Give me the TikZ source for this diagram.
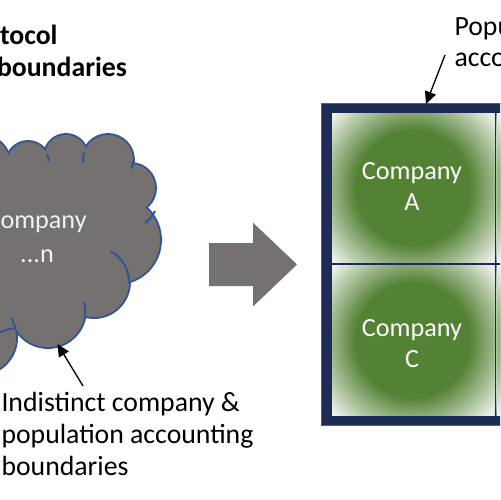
\documentclass[tikz,border=0pt]{standalone}
\usepackage{fontspec}
\setmainfont{Carlito}
\usetikzlibrary{arrows.meta}
\definecolor{cloudgray}{HTML}{767171}
\definecolor{cloudblue}{HTML}{2F5597}
\definecolor{navy}{HTML}{1C2C55}
\definecolor{cgreen}{HTML}{548235}
\begin{document}
\begin{tikzpicture}[x=0.02cm, y=-0.02cm,
  every node/.style={inner sep=0pt, outer sep=0pt},
  cloudline/.style={draw=cloudblue, line width=1.1pt},
  lbl/.style={font=\fontsize{15.8}{18}\selectfont, text=black},
  celltxt/.style={font=\fontsize{14.9}{17.4}\selectfont, text=white, align=center},
  cloudtxt/.style={font=\fontsize{14.9}{17.4}\selectfont, text=white!95!black},
  ptr/.style={draw=black, line width=0.75pt, -{Triangle[length=7pt,width=6.5pt]}}]
\useasboundingbox (0,0) rectangle (500,500);
\clip (0,0) rectangle (500,500);

% ---------- cloud ----------
\foreach \cx/\cy/\r in {-20/165/30, 28/163/21, 66/156/21, 108/160/25, 131/188/24, 117/240/43, 94/282/35, 48/310/37, -20/338/36, -80/250/50}
  \path[draw=cloudblue, line width=2.2pt] (\cx,\cy) circle[radius=\r];
\fill[cloudgray] (-20,165) -- (28,163) -- (66,156) -- (108,160) -- (131,188) -- (117,240) -- (94,282) -- (48,310) -- (-20,338) -- (-80,250) -- cycle;
\foreach \cx/\cy/\r in {-20/165/30, 28/163/21, 66/156/21, 108/160/25, 131/188/24, 117/240/43, 94/282/35, 48/310/37, -20/338/36, -80/250/50}
  \fill[cloudgray] (\cx,\cy) circle[radius=\r];
% inner arcs of the cloud
\draw[cloudline] (28,163) ++(-25:21) arc[start angle=-25, end angle=-5, radius=21];
\draw[cloudline] (108,160) ++(197:25) arc[start angle=197, end angle=175, radius=25];
\draw[cloudline] (108,160) ++(2:25) arc[start angle=2, end angle=20, radius=25];
\draw[cloudline] (155,211) to[bend left=12] (145,223);
\draw[cloudline] (94,282) ++(-62:35) arc[start angle=-62, end angle=2, radius=35];
\draw[cloudline] (48,310) ++(10:37) arc[start angle=10, end angle=-12, radius=37];
\draw[cloudline] (48,310) ++(151:37) arc[start angle=151, end angle=168, radius=37];
\draw[cloudline] (15,328) to[bend right=10] (-3,334);

\node[cloudtxt, anchor=base west] (cloudtop) at (0.5,228) {ompany};
\node[cloudtxt, anchor=base] (cloudbot) at (37,262) {...n};

% ---------- block arrow ----------
\fill[cloudgray] (209,243) -- (253,243) -- (253,222.7) -- (297,264.5) -- (253,306.5) -- (253,286) -- (209,286) -- cycle;

% ---------- framed grid ----------
\fill[navy, draw=navy!75!white, line width=0.4pt] (321.7,103.3) rectangle (530,425);
\foreach \xa/\ya/\xb/\yb/\cx/\cy in {332.3/113.3/494.3/262.7/413.3/188, 332.3/265.7/494.3/415/413.3/340.35, 496.9/113.3/659/262.7/578/188, 496.9/265.7/659/415/578/340.35}{
  \begin{scope}
    \clip (\xa,\ya) rectangle (\xb,\yb);
    \fill[white] (\xa,\ya) rectangle (\xb,\yb);
    \foreach \i [evaluate=\i as \r using 114-\i*56/50, evaluate=\i as \p using \i*2] in {0,...,50}
      \fill[cgreen!\p!white] (\cx,\cy) circle[radius=\r];
  \end{scope}
}
\node[celltxt, anchor=base] (compA) at (412,210.5) {Company\\A};
\node[celltxt, anchor=base] (compC) at (412,367.5) {Company\\C};

% ---------- labels ----------
\node[lbl, font=\fontsize{15.8}{18}\selectfont\bfseries, anchor=base west] (title1) at (0,45) {tocol};
\node[lbl, font=\fontsize{15.8}{18}\selectfont\bfseries, anchor=base west] (title2) at (-3,77) {boundaries};
\node[lbl, align=left, anchor=base west] (poplbl) at (454.5,67) {Popu\\acco};
\node[lbl, align=left, anchor=base west] (indist) at (1.5,475) {Indistinct company \&\\population accounting\\boundaries};

% ---------- pointers ----------
\coordinate (p1) at (445,55);
\coordinate (p2) at (426,104);
\draw[ptr] (p1) -- (p2);
\coordinate (q1) at (83,386);
\coordinate (q2) at (57.5,344);
\draw[ptr] (q1) -- (q2);
\end{tikzpicture}
\end{document}
